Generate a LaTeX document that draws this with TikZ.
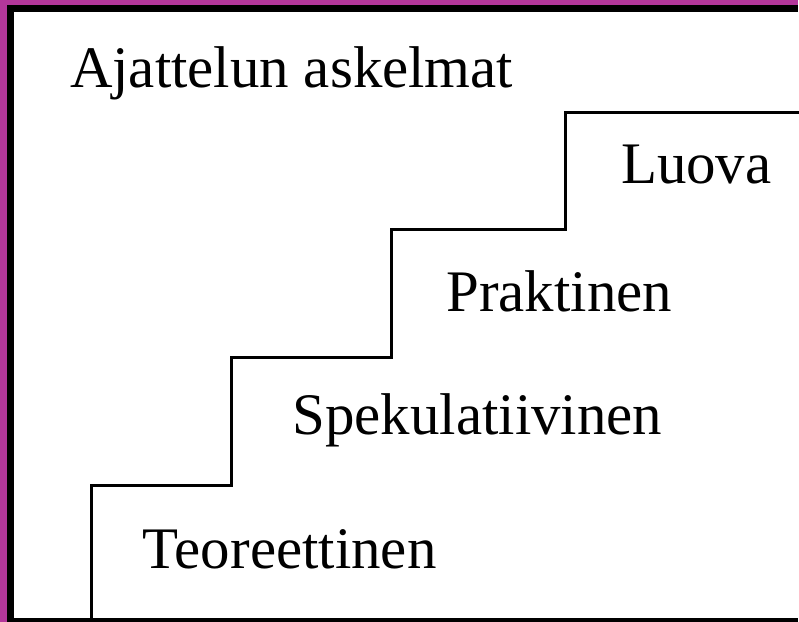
\documentclass[tikz,border=0pt]{standalone}
\usepackage{fontspec}
\setmainfont{Liberation Serif}
\definecolor{frame}{RGB}{180,55,155}
\tikzset{
  lbl/.style={anchor=base west,inner sep=0pt,font=\fontsize{59}{62}\selectfont},
  stair/.style={line width=3pt,line cap=rect}
}
\begin{document}
\begin{tikzpicture}[x=1pt,y=-1pt]
      \fill[frame] (0,0) rectangle (799,623) ;
      \fill[black] (7,5) rectangle (799,623) ;
      \fill[white] (14,12) rectangle (799,619) ;
      \draw[stair] (92,619) -- (92,486) -- (232,486) -- (232,358) %
      -- (392,358) -- (392,230) -- (567,230) -- (567,113) -- (799,113) ;
      \node[lbl] (title) at (70,88) {Ajattelun askelmat} ;
      \node[lbl] (luova) at (622,184) {Luova} ;
      \node[lbl] (prakt) at (447,312) {Praktinen} ;
      \node[lbl] (spek) at (293,435) {Spekulatiivinen} ;
      \node[lbl] (teor) at (143,570) {Teoreettinen} ;
    \end{tikzpicture}
\end{document}
